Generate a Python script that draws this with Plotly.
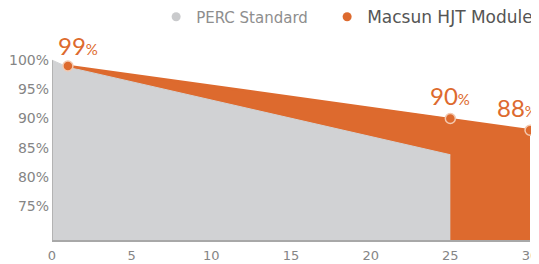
import plotly.graph_objects as go

# Data
perc_years = [0, 1, 25]
perc_values = [100, 98.8, 83.8]
hjt_years = [1, 25, 30]
hjt_values = [99, 90, 88]
hjt_labels = ["99", "90", "88"]
x_ticks = [0, 5, 10, 15, 20, 25, 30]
y_ticks = [75, 80, 85, 90, 95, 100]
y_tick_labels = ["75%", "80%", "85%", "90%", "95%", "100%"]

ORANGE = "#DD6A2E"
GRAY = "#D1D2D4"

fig = go.Figure()

# Orange area (HJT)
fig.add_trace(go.Scatter(x=hjt_years, y=hjt_values, fill="tozeroy", mode="none",
                         fillcolor=ORANGE, showlegend=False, hoverinfo="skip"))
# Gray area (PERC)
fig.add_trace(go.Scatter(x=perc_years, y=perc_values, fill="tozeroy", mode="lines",
                         line=dict(color=GRAY, width=1), fillcolor=GRAY,
                         showlegend=False, hoverinfo="skip"))
# HJT line with markers
fig.add_trace(go.Scatter(x=hjt_years, y=hjt_values, mode="lines+markers",
                         line=dict(color=ORANGE, width=2.5),
                         marker=dict(size=10, color=ORANGE, line=dict(color="#F3C9B0", width=1.5)),
                         showlegend=False, cliponaxis=False))

# Legend entries
fig.add_trace(go.Scatter(x=[None], y=[None], mode="markers",
                         marker=dict(size=9, color="#C9CACC"),
                         name="<span style='color:#8E8E8E'>PERC Standard</span>&nbsp;&nbsp;&nbsp;"))
fig.add_trace(go.Scatter(x=[None], y=[None], mode="markers",
                         marker=dict(size=9, color=ORANGE),
                         name="<span style='color:#555555;font-size:17px'>Macsun HJT Module</span>"))

# Left edge line
fig.add_shape(type="line", xref="x", yref="y", x0=perc_years[0], x1=perc_years[0],
              y0=69.2, y1=perc_values[0], line=dict(color="#A8A8A8", width=1.5))

shifts = [(10, 4), (0, 7), (-13, 6)]
for (xv, yv, lab), (xs, ys) in zip(zip(hjt_years, hjt_values, hjt_labels), shifts):
    fig.add_annotation(x=xv, y=yv, xref="x", yref="y",
                       text=f"{lab}<span style='font-size:15px'>%</span>",
                       showarrow=False, xanchor="center", yanchor="bottom",
                       xshift=xs, yshift=ys,
                       font=dict(family="Lato", size=24, color=ORANGE))

# The page body has an 8px margin, so the figure is sized to fill the remaining window.
fig.update_layout(
    width=531, height=256,
    margin=dict(l=44, r=9, t=32, b=24, autoexpand=False),
    paper_bgcolor="white", plot_bgcolor="white",
    legend=dict(orientation="h", x=1.017, xanchor="right", y=1.115, yanchor="middle",
                font=dict(family="DejaVu Sans", size=15), itemwidth=30,
                bgcolor="rgba(0,0,0,0)"),
    xaxis=dict(range=[0, 30], tickvals=x_ticks, showgrid=False, zeroline=False,
               showline=True, linecolor="#A8A8A8", linewidth=1.5, ticks="",
               ticklabelstandoff=3,
               tickfont=dict(family="DejaVu Sans", size=13, color="#858585")),
    yaxis=dict(range=[69.2, 103.45], tickvals=y_ticks, ticktext=y_tick_labels,
               showgrid=False, zeroline=False, showline=False, ticks="",
               ticklabelstandoff=2,
               tickfont=dict(family="DejaVu Sans", size=14, color="#858585")),
    showlegend=True,
)

fig.write_html("out.html")
